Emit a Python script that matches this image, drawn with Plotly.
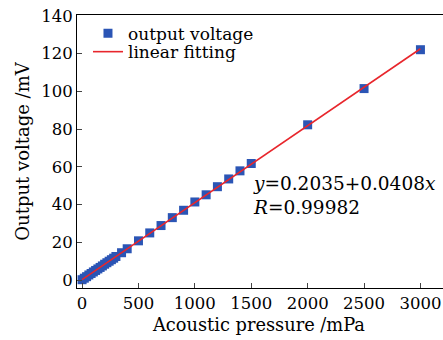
import plotly.graph_objects as go

pressure = [0, 20, 40, 60, 80, 100, 120, 140, 160, 180, 200, 220, 240, 260, 280, 300,
            350, 400, 500, 600, 700, 800, 900, 1000, 1100, 1200, 1300, 1400, 1500,
            2000, 2500, 3000]
voltage = [0.2, 1.0, 1.8, 2.7, 3.5, 4.3, 5.1, 5.9, 6.7, 7.5, 8.4, 9.2, 10.0, 10.8, 11.6, 12.5,
           14.5, 16.6, 20.8, 25.0, 28.9, 33.1, 37.0, 41.4, 45.2, 49.5, 53.6, 57.9, 61.8,
           82.3, 101.5, 122.1]
fit_x = [0, 3000]
fit_y = [0.2, 122.6]

x_ticks = [0, 500, 1000, 1500, 2000, 2500, 3000]
y_ticks = [0, 20, 40, 60, 80, 100, 120, 140]

FONT = "DejaVu Serif"

fig = go.Figure()
fig.add_trace(go.Scatter(x=pressure, y=voltage, mode="markers", name="output voltage",
                         marker=dict(symbol="square", size=9, color="#2b55b5"),
                         legend="legend"))
fig.add_trace(go.Scatter(x=fit_x, y=fit_y, mode="lines", name="linear fitting",
                         line=dict(color="#e8262c", width=1.6),
                         legend="legend2"))

fig.add_annotation(x=0.475, y=0.337, xref="paper", yref="paper", xanchor="left", yanchor="middle",
                   text="<i>y</i>=0.2035+0.0408<i>x</i><br><i>R</i>=0.99982", showarrow=False,
                   align="left", font=dict(family=FONT, size=18.5, color="black"))

# x-axis title placed as annotation for exact vertical position
fig.add_annotation(x=0.495, y=-0.132, xref="paper", yref="paper", xanchor="center", yanchor="middle",
                   text="Acoustic pressure /mPa", showarrow=False,
                   font=dict(family=FONT, size=17.8, color="black"))

leg_common = dict(xanchor="left", yanchor="top", bgcolor="rgba(0,0,0,0)",
                  font=dict(family=FONT, size=17, color="black"))

fig.update_layout(
    width=443, height=340,
    margin=dict(l=77, r=0, t=15, b=52),
    paper_bgcolor="white", plot_bgcolor="white",
    font=dict(family=FONT, size=15, color="black"),
    showlegend=True,
    legend=dict(x=0.03, y=0.997, **leg_common),
    legend2=dict(x=0.03, y=0.93, **leg_common),
    xaxis=dict(range=[-45, 3200], tickvals=x_ticks, ticks="inside", ticklen=5,
               tickfont=dict(size=16.5),
               showline=True, linecolor="black", linewidth=1, mirror=True,
               showgrid=False, zeroline=False),
    yaxis=dict(range=[-4.2, 140.5], tickvals=y_ticks, ticks="inside", ticklen=5,
               tickfont=dict(size=16.5),
               showline=True, linecolor="black", linewidth=1, mirror=True,
               showgrid=False, zeroline=False,
               title=dict(text="Output voltage /mV", standoff=6, font=dict(size=18))),
)

fig.write_html("out.html")
